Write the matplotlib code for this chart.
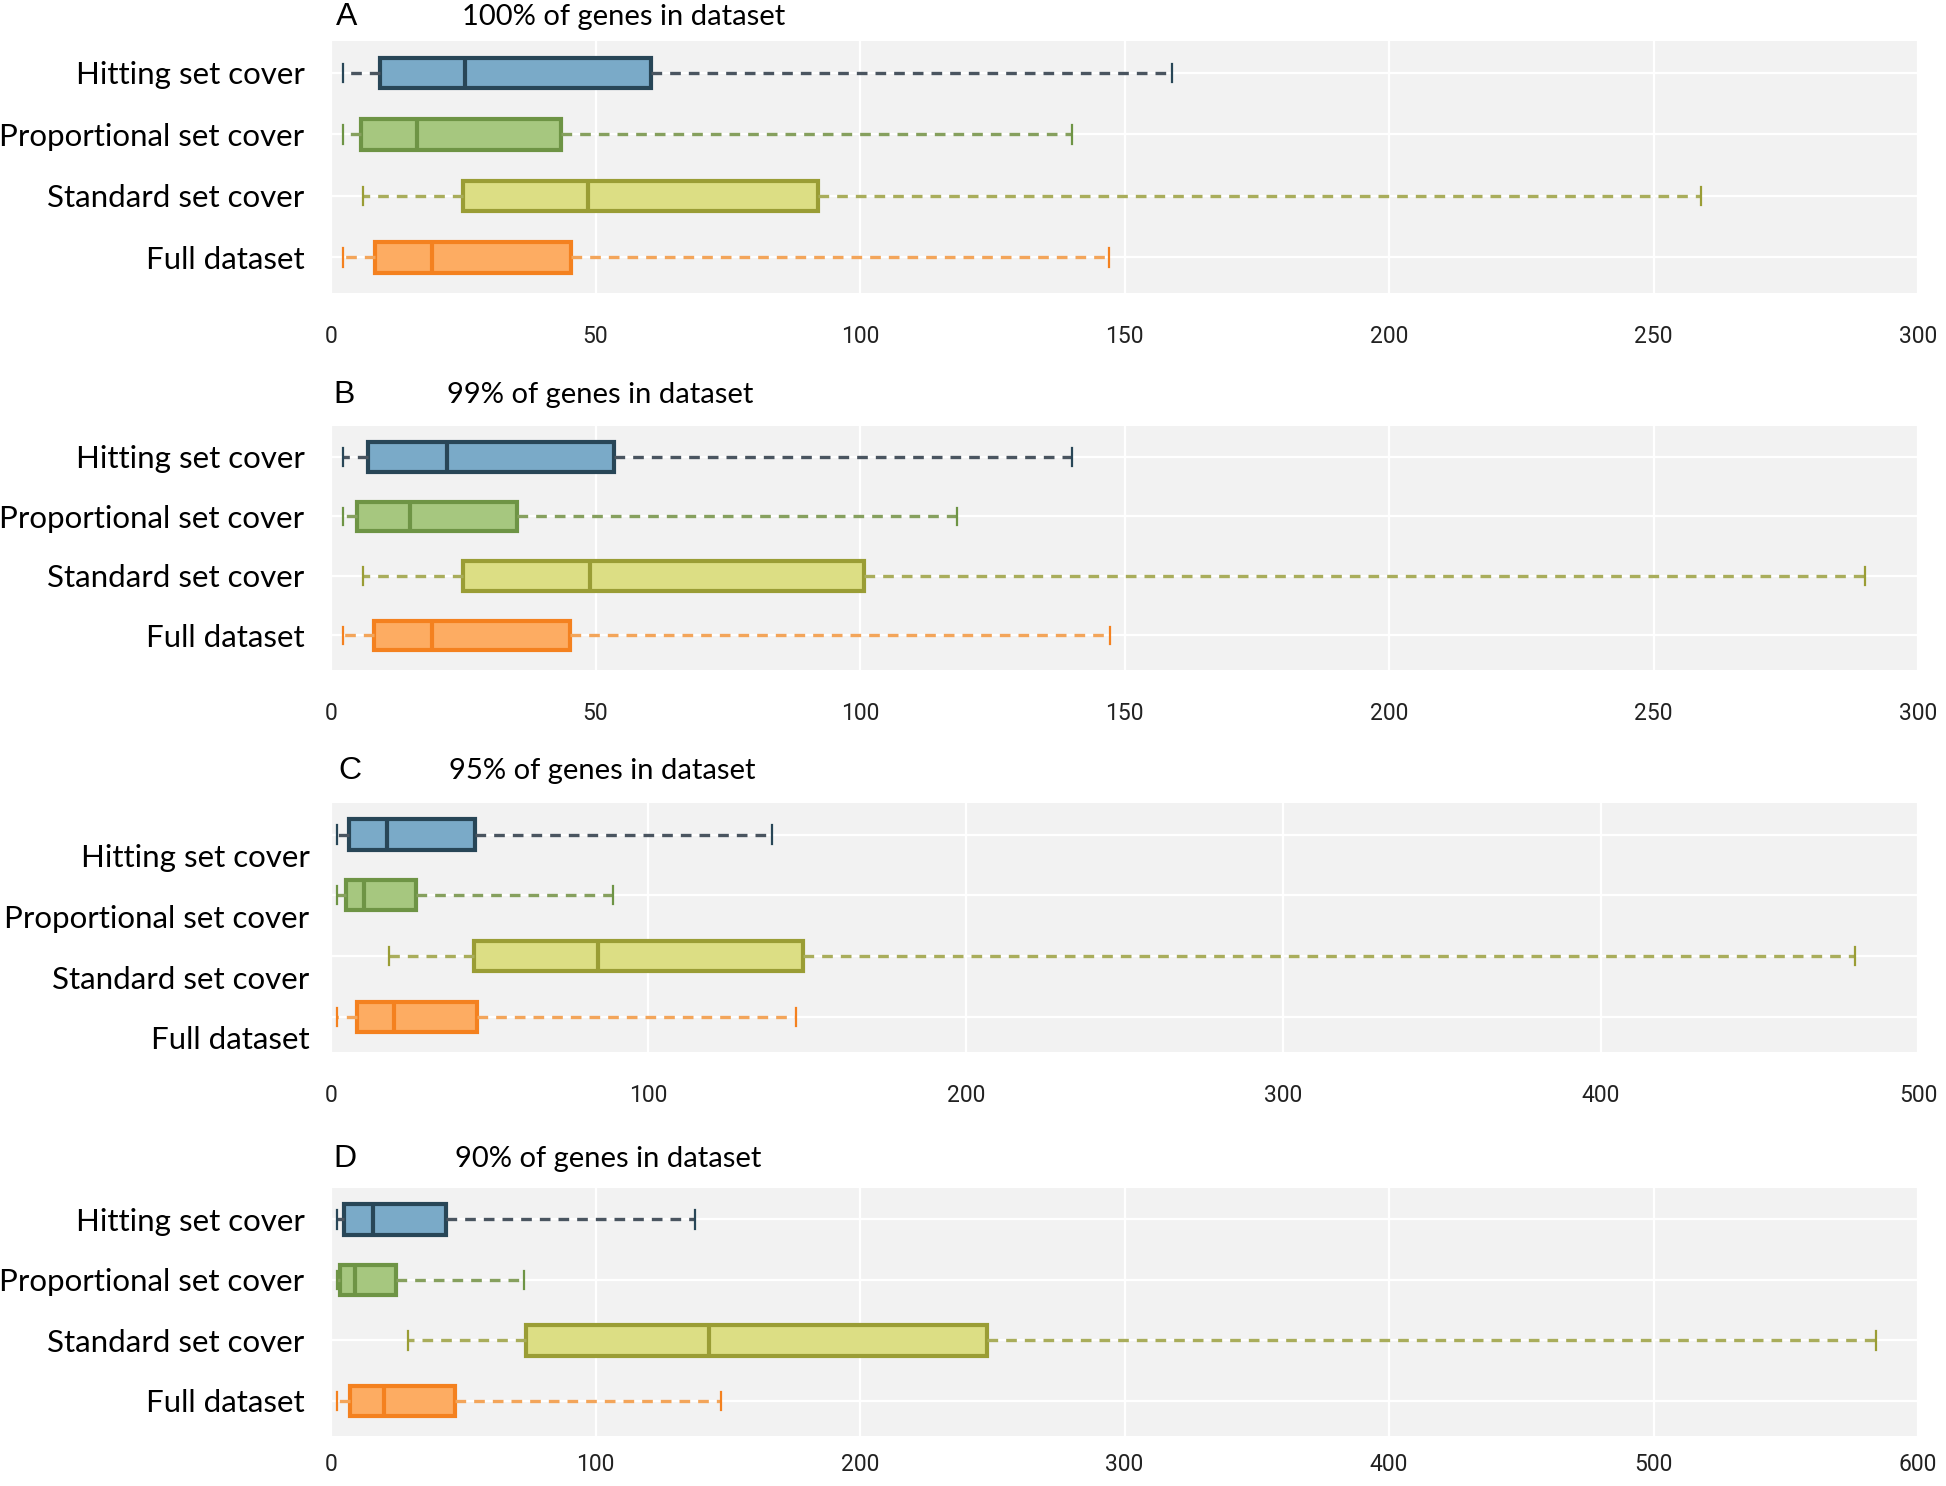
import matplotlib.pyplot as plt
from matplotlib.transforms import ScaledTranslation

categories = ["Hitting set cover", "Proportional set cover", "Standard set cover", "Full dataset"]

# values per category, same order as categories (top to bottom)
a_min = [2.3, 2.3, 6.0, 2.3]
a_q1 = [9.2, 5.7, 25.0, 8.3]
a_med = [25.4, 16.2, 48.6, 19.1]
a_q3 = [60.5, 43.5, 92.1, 45.4]
a_max = [159, 140, 259, 147]

b_min = [2.3, 2.3, 6.0, 2.3]
b_q1 = [6.9, 4.9, 25.0, 8.2]
b_med = [22.0, 14.9, 49.0, 19.0]
b_q3 = [53.5, 35.2, 100.8, 45.2]
b_max = [140, 118.4, 290, 147.2]

c_min = [2.0, 2.0, 18.2, 2.0]
c_q1 = [5.6, 4.7, 45.0, 8.3]
c_med = [17.6, 10.3, 84.0, 19.9]
c_q3 = [45.4, 26.9, 148.6, 46.0]
c_max = [139, 89, 480, 146.5]

d_min = [2.1, 2.1, 29.3, 2.1]
d_q1 = [4.8, 3.4, 73.6, 7.2]
d_med = [16.0, 9.2, 142.8, 20.1]
d_q3 = [43.6, 24.5, 248, 46.8]
d_max = [137.5, 73, 584, 147.6]

letters = ["A", "B", "C", "D"]
titles = ["100% of genes in dataset", "99% of genes in dataset",
          "95% of genes in dataset", "90% of genes in dataset"]
x_ticks = [list(range(0, 301, 50)), list(range(0, 301, 50)),
           list(range(0, 501, 100)), list(range(0, 601, 100))]

fills = ["#7aaac8", "#a6c77f", "#dcde84", "#fdac62"]
edges = ["#284657", "#6e9445", "#9a9d35", "#f4811f"]
whisk = ["#4a5560", "#86a05e", "#a9ad5b", "#f3a55a"]

W, H = 1946, 1486
fig = plt.figure(figsize=(W / 100, H / 100), dpi=100)


def fx(x):
    return x / W


def fy(y):
    return 1 - y / H


# axes boxes in pixels: top, bottom
ax_rows = [(41, 293), (426, 670), (803, 1052), (1188, 1436)]
head_y = [17, 395, 771, 1159]
letter_x = [336, 333, 338, 333]
title_x = [462, 447, 449, 455]
xpad = [23, 23, 23, 12]

data = [
    (a_min, a_q1, a_med, a_q3, a_max),
    (b_min, b_q1, b_med, b_q3, b_max),
    (c_min, c_q1, c_med, c_q3, c_max),
    (d_min, d_q1, d_med, d_q3, d_max),
]

label_font = "Lato"
positions = [3, 2, 1, 0]

for p in range(4):
    top, bot = ax_rows[p]
    ax = fig.add_axes([fx(331), fy(bot), fx(1918) - fx(331), (bot - top) / H])
    ax.set_facecolor("#f2f2f2")
    mins, q1s, meds, q3s, maxs = data[p]
    for i in range(4):
        st = [{"whislo": mins[i], "q1": q1s[i], "med": meds[i],
               "q3": q3s[i], "whishi": maxs[i], "fliers": []}]
        ax.bxp(st, positions=[positions[i]], widths=0.5, vert=False,
               patch_artist=True, showfliers=False, capwidths=0.3,
               boxprops=dict(facecolor=fills[i], edgecolor=edges[i], linewidth=3.0),
               medianprops=dict(color=edges[i], linewidth=3.0),
               whiskerprops=dict(color=whisk[i], linewidth=2.4, linestyle=(0, (3.2, 2.4))),
               capprops=dict(color=edges[i], linewidth=1.6),
               zorder=3)
    ax.set_xlim(0, x_ticks[p][-1])
    ax.set_ylim(-0.58, 3.52)
    ax.set_xticks(x_ticks[p])
    ax.set_yticks(positions)
    ax.set_yticklabels(categories, fontsize=22.5, family=label_font)
    ax.tick_params(axis="x", length=0, pad=xpad[p], labelsize=16.5, labelcolor="#222222")
    ax.tick_params(axis="y", length=0, pad=19, labelcolor="black")
    for lab in ax.get_xticklabels():
        lab.set_family("Roboto")
    ax.grid(True, color="white", linewidth=1.6, zorder=0)
    ax.set_axisbelow(True)
    for s in ax.spines.values():
        s.set_visible(False)
    if p == 2:
        # labels in panel C sit slightly lower than their boxes
        off = ScaledTranslation(0.05, -0.21, fig.dpi_scale_trans)
        for lab in ax.get_yticklabels():
            lab.set_transform(lab.get_transform() + off)
    fig.text(fx(letter_x[p]), fy(head_y[p]), letters[p], fontsize=23,
             family="Liberation Sans", va="center", ha="left")
    fig.text(fx(title_x[p]), fy(head_y[p]), titles[p], fontsize=21,
             family=label_font, va="center", ha="left")

fig.savefig("out.png", dpi=100, facecolor="white")
